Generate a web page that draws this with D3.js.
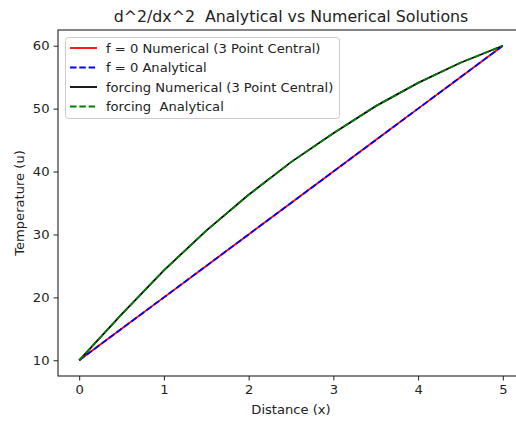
<!DOCTYPE html>
<html><head><meta charset="utf-8">
<script src="https://cdn.jsdelivr.net/npm/d3@7"></script>
<style>body{margin:0;background:#fff}svg{display:block;font-family:"DejaVu Sans",sans-serif}text{white-space:pre}</style>
</head><body>
<svg id="c" width="516" height="423"></svg>
<script>
const xs = [0,0.5,1,1.5,2,2.5,3,3.5,4,4.5,5];
const linearNumerical = [10,15,20,25,30,35,40,45,50,55,60];
const linearAnalytical = [10,15,20,25,30,35,40,45,50,55,60];
const forcingNumerical = [10,17.3,24.3,30.6,36.3,41.5,46.1,50.4,54.1,57.3,60];
const forcingAnalytical = [10,17.3,24.3,30.6,36.3,41.5,46.1,50.4,54.1,57.3,60];
const xTicks = [0,1,2,3,4,5];
const yTicks = [10,20,30,40,50,60];
const seriesNames = ["f = 0 Numerical (3 Point Central)","f = 0 Analytical","forcing Numerical (3 Point Central)","forcing  Analytical"];

const svg = d3.select("#c");
const L=58, R=524, T=30, B=376;
const FS = 13.1;
const x = d3.scaleLinear().domain([-0.25,5.25]).range([L,R]);
const y = d3.scaleLinear().domain([7.5,62.5]).range([B,T]);

const series = [
  {name:seriesNames[0], vals:linearNumerical, color:"red", dash:null},
  {name:seriesNames[1], vals:linearAnalytical, color:"blue", dash:"6.5,2.8"},
  {name:seriesNames[2], vals:forcingNumerical, color:"black", dash:null},
  {name:seriesNames[3], vals:forcingAnalytical, color:"green", dash:"6.5,2.8"}
];
const line = d3.line().x((d,i)=>x(xs[i])).y(d=>y(d));
series.forEach(s=>{
  svg.append("path").attr("d",line(s.vals)).attr("fill","none")
    .attr("stroke",s.color).attr("stroke-width",1.8)
    .attr("stroke-dasharray",s.dash);
});

// axes
const xa = svg.append("g").attr("transform",`translate(0,${B})`)
  .call(d3.axisBottom(x).tickValues(xTicks).tickSize(4.5).tickPadding(4).tickFormat(d3.format("d")));
const ya = svg.append("g").attr("transform",`translate(${L},0)`)
  .call(d3.axisLeft(y).tickValues(yTicks).tickSize(4.5).tickPadding(4).tickFormat(d3.format("d")));
[xa,ya].forEach(a=>{
  a.select(".domain").remove();
  a.selectAll("text").attr("font-size",FS).attr("fill","#222").attr("font-family","DejaVu Sans");
  a.selectAll("line").attr("stroke","#222").attr("stroke-width",1);
});
svg.append("rect").attr("x",L).attr("y",T).attr("width",R-L).attr("height",B-T)
  .attr("fill","none").attr("stroke","#222").attr("stroke-width",1.1);

// title and labels
svg.append("text").attr("x",(L+R)/2).attr("y",22).attr("text-anchor","middle")
  .attr("font-size",15.8).attr("fill","#222").text("d^2/dx^2  Analytical vs Numerical Solutions");
svg.append("text").attr("x",(L+R)/2).attr("y",414).attr("text-anchor","middle")
  .attr("font-size",FS).attr("fill","#222").text("Distance (x)");
svg.append("text").attr("transform",`translate(24,${(T+B)/2}) rotate(-90)`).attr("text-anchor","middle")
  .attr("font-size",FS).attr("fill","#222").text("Temperature (u)");

// legend
const lg = svg.append("g");
lg.append("rect").attr("x",65.5).attr("y",37.5).attr("width",274).attr("height",81).attr("rx",3)
  .attr("fill","white").attr("fill-opacity",0.8).attr("stroke","#ccc").attr("stroke-width",1);
series.forEach((s,i)=>{
  const yy = 48 + i*19.5;
  lg.append("line").attr("x1",70).attr("x2",97).attr("y1",yy).attr("y2",yy)
    .attr("stroke",s.color).attr("stroke-width",1.8).attr("stroke-dasharray",s.dash);
  lg.append("text").attr("x",106).attr("y",yy+4.6).attr("font-size",FS).attr("fill","#222").text(s.name);
});
</script>
</body></html>
